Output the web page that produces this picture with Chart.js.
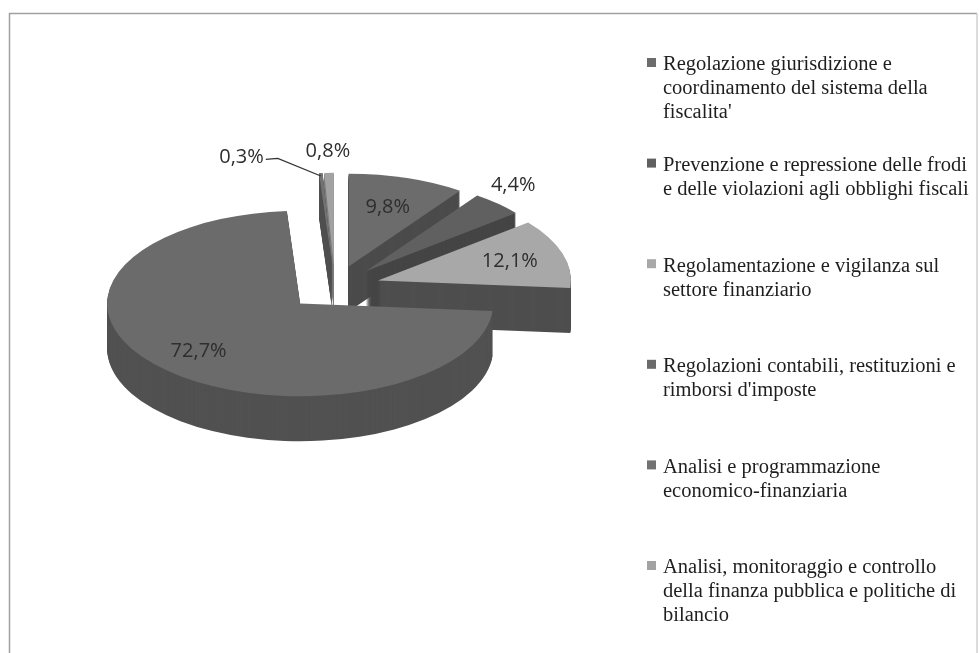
<!DOCTYPE html>
<html>
<head>
<meta charset="utf-8">
<script src="https://cdn.jsdelivr.net/npm/chart.js@4/dist/chart.umd.min.js"></script>
<style>
html, body { margin: 0; padding: 0; background: #fff; }
canvas { display: block; }
</style>
</head>
<body>
<canvas id="chart-area" width="979" height="653"></canvas>
<script>
var categories = [
    ['Regolazione giurisdizione e', 'coordinamento del sistema della', "fiscalita'"],
    ['Prevenzione e repressione delle frodi', 'e delle violazioni agli obblighi fiscali'],
    ['Regolamentazione e vigilanza sul', 'settore finanziario'],
    ['Regolazioni contabili, restituzioni e', "rimborsi d'imposte"],
    ['Analisi e programmazione', 'economico-finanziaria'],
    ['Analisi, monitoraggio e controllo', 'della finanza pubblica e politiche di', 'bilancio']
];
var values = [9.8, 4.4, 12.1, 72.7, 0.3, 0.8];

var topColors = ['#6c6c6c', '#606060', '#a8a8a8', '#6b6b6b', '#727272', '#a2a2a2'];
var sideColors = ['#4b4b4b', '#454545', '#4e4e4e', '#515151', '#505050', '#7d7d7d'];
var explode = [45, 45, 45, 49, 45, 45];
// label placement: fraction of radius along slice middle, plus nudges
var labelPlace = [
    {f: 0.67, dx: 0, dy: 0},
    {f: 1.2, dx: -11, dy: -5},
    {f: 0.715, dx: 0, dy: 0},
    {f: 0.74, dx: 0, dy: 0},
    {f: 1.2, dx: -77, dy: 3},
    {f: 1.23, dx: 0, dy: 0}
];

var K = 0.48;      // vertical flattening
var DEPTH = 45;    // pie thickness

function slicePath(ctx, arc, i, shift) {
    var mid = (arc.startAngle + arc.endAngle) / 2;
    var ox = Math.cos(mid) * explode[i];
    var oy = Math.sin(mid) * explode[i] * K;
    ctx.save();
    ctx.translate(arc.x + ox, arc.y + oy + shift);
    ctx.scale(1, K);
    ctx.beginPath();
    ctx.moveTo(0, 0);
    ctx.arc(0, 0, arc.outerRadius, arc.startAngle, arc.endAngle);
    ctx.closePath();
    ctx.restore();
}

function apexOf(arc, i) {
    var mid = (arc.startAngle + arc.endAngle) / 2;
    return {x: arc.x + Math.cos(mid) * explode[i], y: arc.y + Math.sin(mid) * explode[i] * K, mid: mid};
}

var pie3d = {
    id: 'pie3d',
    beforeDraw: function (chart) {
        var ctx = chart.ctx;
        ctx.save();
        ctx.fillStyle = '#fff';
        ctx.fillRect(0, 0, chart.width, chart.height);
        ctx.strokeStyle = '#a0a0a0';
        ctx.lineWidth = 1.5;
        ctx.beginPath();
        ctx.moveTo(9.5, chart.height);
        ctx.lineTo(9.5, 13.5);
        ctx.lineTo(chart.width - 2, 13.5);
        ctx.stroke();
        ctx.strokeStyle = '#d0d0d0';
        ctx.beginPath();
        ctx.moveTo(chart.width - 2, 13.5);
        ctx.lineTo(chart.width - 2, chart.height);
        ctx.stroke();
        ctx.restore();
    },
    beforeDatasetsDraw: function (chart) {
        var ctx = chart.ctx;
        var arcs = chart.getDatasetMeta(0).data;
        ctx.save();
        for (var s = DEPTH; s >= 1; s--) {
            for (var i = 0; i < arcs.length; i++) {
                slicePath(ctx, arcs[i], i, s);
                ctx.fillStyle = sideColors[i];
                ctx.fill();
            }
        }
        for (var j = 0; j < arcs.length; j++) {
            slicePath(ctx, arcs[j], j, 0);
            ctx.fillStyle = topColors[j];
            ctx.fill();
        }

        // value labels
        ctx.font = '20px "Open Sans"';
        ctx.textAlign = 'center';
        ctx.textBaseline = 'middle';
        ctx.fillStyle = '#2e2e2e';
        for (var n = 0; n < arcs.length; n++) {
            var a = arcs[n];
            var p = apexOf(a, n);
            var r = a.outerRadius * labelPlace[n].f;
            var lx = p.x + Math.cos(p.mid) * r + labelPlace[n].dx;
            var ly = p.y + Math.sin(p.mid) * r * K + labelPlace[n].dy;
            var txt = values[n].toFixed(1).replace('.', ',') + '%';
            ctx.fillText(txt, lx, ly);
            if (labelPlace[n].dx < -30) {
                // leader line to the thin slice
                var w = ctx.measureText(txt).width;
                var ex = p.x + Math.cos(p.mid) * a.outerRadius;
                var ey = p.y + Math.sin(p.mid) * a.outerRadius * K;
                ctx.save();
                ctx.strokeStyle = '#333';
                ctx.lineWidth = 1.2;
                ctx.beginPath();
                ctx.moveTo(lx + w / 2 + 2, ly + 2);
                ctx.lineTo(lx + w / 2 + 14, ly + 1);
                ctx.lineTo(ex, ey + 3);
                ctx.stroke();
                ctx.restore();
            }
        }
        ctx.restore();
        return false;
    },
    afterDraw: function (chart) {
        var ctx = chart.ctx;
        var labels = chart.data.labels;
        ctx.save();
        ctx.font = '20.5px "Liberation Serif"';
        ctx.textAlign = 'left';
        ctx.textBaseline = 'middle';
        for (var i = 0; i < labels.length; i++) {
            var y0 = 65 + i * 100.6;
            ctx.fillStyle = topColors[i];
            ctx.fillRect(647, y0 - 7, 9, 9);
            ctx.fillStyle = '#1e1e1e';
            for (var j = 0; j < labels[i].length; j++) {
                ctx.fillText(labels[i][j], 663, y0 + j * 24);
            }
        }
        ctx.restore();
    }
};

var config = {
    type: 'pie',
    data: {
        labels: categories,
        datasets: [{
            data: values,
            backgroundColor: topColors,
            borderWidth: 0,
            radius: 193
        }]
    },
    options: {
        responsive: false,
        animation: false,
        layout: {
            padding: {left: 135, right: 444, top: 87, bottom: 166}
        },
        plugins: {
            legend: {display: false},
            tooltip: {enabled: false}
        }
    },
    plugins: [pie3d]
};

var ctx = document.getElementById('chart-area').getContext('2d');
window.myPie = new Chart(ctx, config);
</script>
</body>
</html>
